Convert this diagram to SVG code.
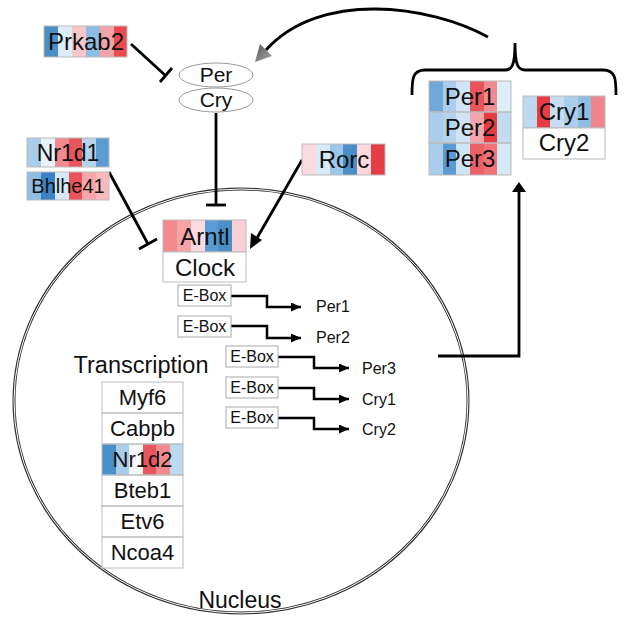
<svg xmlns="http://www.w3.org/2000/svg" width="636" height="635" viewBox="0 0 636 635">
<defs>
<style>
text{font-family:"Liberation Sans",Arial,sans-serif;fill:#111;text-anchor:middle}
.t24{font-size:24px}.t22{font-size:22px}.t20{font-size:20px}.t16{font-size:16px}
.cell{fill:none;stroke:#bbb;stroke-width:1}
.conn{fill:none;stroke:#000;stroke-width:2.8}
.thin{fill:none;stroke:#000;stroke-width:2.5}
.ebox{fill:#fff;stroke:#aaa;stroke-width:1}
.lab{text-anchor:start}
</style>
<marker id="ah" markerUnits="userSpaceOnUse" markerWidth="12" markerHeight="10" refX="10" refY="4.5" orient="auto"><path d="M0,0 L10,4.5 L0,9 z" fill="#000"/></marker>
<linearGradient id="gg" x1="0" y1="0" x2="1" y2="1"><stop offset="0" stop-color="#555"/><stop offset="1" stop-color="#aaa"/></linearGradient>
</defs>

<g id="nucleus">
<ellipse cx="241" cy="401" rx="227" ry="212" fill="none" stroke="#333" stroke-width="3"/>
<ellipse cx="241" cy="401" rx="227" ry="212" fill="none" stroke="#fff" stroke-width="1"/>
<text x="240" y="608" style="font-size:23px">Nucleus</text>
</g>

<g id="connectors">
<path class="conn" d="M131,44 L166,76"/>
<path class="conn" d="M160,82 L172,68"/>
<path class="conn" d="M216,113 V205"/>
<path class="conn" d="M206,205 H226"/>
<path class="conn" d="M109,172 L148,244"/>
<path class="conn" d="M139,249 L157,239"/>
<path class="conn" d="M302,160 L257,238"/>
<polygon points="250,249 251,233 262,240" fill="#000"/>
<path class="conn" d="M488,37 C430,5 320,-10 266,50"/>
<polygon points="255,62 260,44 272,56" fill="url(#gg)"/>
<path class="conn" d="M438,356 H519 V190"/>
<polygon points="519,182 512,192 526,192" fill="#000"/>
<path class="conn" d="M412,95 C412,80 412,70 425,70 H505 C512,70 515,65 515,43 C515,65 518,70 525,70 H603 C616,70 616,80 616,95"/>
<path class="thin" marker-end="url(#ah)" d="M231,296 H267 V307 H301"/>
<path class="thin" marker-end="url(#ah)" d="M231,326 H267 V338 H301"/>
<path class="thin" marker-end="url(#ah)" d="M278,357 H314 V368 H349"/>
<path class="thin" marker-end="url(#ah)" d="M278,388 H314 V399 H349"/>
<path class="thin" marker-end="url(#ah)" d="M278,418 H314 V429 H349"/>
</g>

<g id="Prkab2">
<rect x="44" y="26" width="14" height="31" fill="#4a8fc8"/><rect x="58" y="26" width="14" height="31" fill="#dceefa"/><rect x="72" y="26" width="14" height="31" fill="#f7c6c9"/><rect x="86" y="26" width="14" height="31" fill="#8dbde2"/><rect x="100" y="26" width="14" height="31" fill="#f3a3a8"/><rect x="114" y="26" width="13" height="31" fill="#e94b50"/>
<rect class="cell" x="44" y="26" width="83" height="31"/>
<text class="t24" x="86" y="50">Prkab2</text>
</g>

<g id="PerCry">
<ellipse cx="216" cy="75" rx="37" ry="12" fill="#fff" stroke="#999" stroke-width="1"/>
<text x="216" y="82" style="font-size:21px">Per</text>
<ellipse cx="216" cy="100" rx="37" ry="12" fill="#fff" stroke="#999" stroke-width="1"/>
<text x="216" y="107" style="font-size:21px">Cry</text>
</g>

<g id="Nr1d1">
<rect x="27" y="138" width="14" height="29" fill="#a9cdeb"/><rect x="41" y="138" width="14" height="29" fill="#e8f3fb"/><rect x="55" y="138" width="14" height="29" fill="#f08a8e"/><rect x="69" y="138" width="13" height="29" fill="#e9555a"/><rect x="82" y="138" width="14" height="29" fill="#b4d4ee"/><rect x="96" y="138" width="13" height="29" fill="#5a9bd3"/>
<rect class="cell" x="27" y="138" width="82" height="29"/>
<text x="68" y="161" style="font-size:23px">Nr1d1</text>
</g>

<g id="Bhlhe41">
<rect x="27" y="172" width="14" height="28" fill="#8dbde2"/><rect x="41" y="172" width="14" height="28" fill="#3b82c4"/><rect x="55" y="172" width="14" height="28" fill="#d5e8f6"/><rect x="69" y="172" width="13" height="28" fill="#e9555a"/><rect x="82" y="172" width="14" height="28" fill="#f4a6aa"/><rect x="96" y="172" width="13" height="28" fill="#f7b9bd"/>
<rect class="cell" x="27" y="172" width="82" height="28"/>
<text class="t20" x="68" y="193">Bhlhe41</text>
</g>

<g id="Rorc">
<rect x="302" y="144" width="14" height="31" fill="#fadadd"/><rect x="316" y="144" width="14" height="31" fill="#d8eaf7"/><rect x="330" y="144" width="13" height="31" fill="#9cc7e8"/><rect x="343" y="144" width="14" height="31" fill="#4a8fc8"/><rect x="357" y="144" width="14" height="31" fill="#fbd9dc"/><rect x="371" y="144" width="14" height="31" fill="#e53e44"/>
<rect class="cell" x="302" y="144" width="83" height="31"/>
<text class="t24" x="344" y="168">Rorc</text>
</g>

<g id="ArntlClock">
<rect x="163" y="220" width="14" height="32" fill="#f28b90"/><rect x="177" y="220" width="14" height="32" fill="#f5a3a7"/><rect x="191" y="220" width="14" height="32" fill="#fbd9dc"/><rect x="205" y="220" width="13" height="32" fill="#5a9bd3"/><rect x="218" y="220" width="14" height="32" fill="#4a8fc8"/><rect x="232" y="220" width="14" height="32" fill="#fbd0d4"/>
<rect class="cell" x="163" y="220" width="83" height="32"/>
<text class="t24" x="205" y="245">Arntl</text>
<rect x="163" y="252" width="83" height="30" fill="#fff" stroke="#bbb"/>
<text class="t24" x="205" y="276">Clock</text>
</g>

<g id="EBoxes">
<rect class="ebox" x="178" y="285" width="53" height="21"/><text class="t16" x="204.5" y="301">E-Box</text>
<rect class="ebox" x="178" y="316" width="53" height="21"/><text class="t16" x="204.5" y="332">E-Box</text>
<rect class="ebox" x="226" y="346" width="52" height="21"/><text class="t16" x="252" y="362">E-Box</text>
<rect class="ebox" x="226" y="377" width="52" height="21"/><text class="t16" x="252" y="393">E-Box</text>
<rect class="ebox" x="226" y="407" width="52" height="21"/><text class="t16" x="252" y="423">E-Box</text>
<text class="t16 lab" x="316" y="312">Per1</text>
<text class="t16 lab" x="316" y="343">Per2</text>
<text class="t16 lab" x="362" y="374">Per3</text>
<text class="t16 lab" x="362" y="405">Cry1</text>
<text class="t16 lab" x="362" y="435">Cry2</text>
</g>

<g id="Transcription">
<text x="141" y="373" style="font-size:23.5px">Transcription</text>
<rect x="102" y="382" width="81" height="186" fill="#fff"/>
<rect x="102" y="444" width="14" height="31" fill="#4a8fc8"/><rect x="116" y="444" width="13" height="31" fill="#a9cdeb"/><rect x="129" y="444" width="14" height="31" fill="#f4f8fb"/><rect x="143" y="444" width="13" height="31" fill="#e9555a"/><rect x="156" y="444" width="14" height="31" fill="#f28b90"/><rect x="170" y="444" width="13" height="31" fill="#bcd9ef"/>
<rect class="cell" x="102" y="382" width="81" height="31"/>
<rect class="cell" x="102" y="413" width="81" height="31"/>
<rect class="cell" x="102" y="444" width="81" height="31"/>
<rect class="cell" x="102" y="475" width="81" height="31"/>
<rect class="cell" x="102" y="506" width="81" height="31"/>
<rect class="cell" x="102" y="537" width="81" height="31"/>
<text class="t22" x="142.5" y="405">Myf6</text>
<text class="t22" x="142.5" y="436">Cabpb</text>
<text class="t22" x="142.5" y="467">Nr1d2</text>
<text class="t22" x="142.5" y="498">Bteb1</text>
<text class="t22" x="142.5" y="529">Etv6</text>
<text class="t22" x="142.5" y="560">Ncoa4</text>
</g>

<g id="PerGenes">
<rect x="429" y="81" width="14" height="31" fill="#6fa8d9"/><rect x="443" y="81" width="13" height="31" fill="#a9cdeb"/><rect x="456" y="81" width="14" height="31" fill="#cfe4f5"/><rect x="470" y="81" width="14" height="31" fill="#e9555a"/><rect x="484" y="81" width="13" height="31" fill="#f28b90"/><rect x="497" y="81" width="14" height="31" fill="#dceefa"/>
<rect x="429" y="112" width="14" height="31" fill="#a9cdeb"/><rect x="443" y="112" width="13" height="31" fill="#b4d4ee"/><rect x="456" y="112" width="14" height="31" fill="#cfe4f5"/><rect x="470" y="112" width="14" height="31" fill="#f4a6aa"/><rect x="484" y="112" width="13" height="31" fill="#e63c42"/><rect x="497" y="112" width="14" height="31" fill="#c1dcf1"/>
<rect x="429" y="143" width="14" height="32" fill="#a9cdeb"/><rect x="443" y="143" width="13" height="32" fill="#5a9bd3"/><rect x="456" y="143" width="14" height="32" fill="#cfe4f5"/><rect x="470" y="143" width="14" height="32" fill="#ec6166"/><rect x="484" y="143" width="13" height="32" fill="#f07378"/><rect x="497" y="143" width="14" height="32" fill="#d5e8f6"/>
<rect class="cell" x="429" y="81" width="82" height="31"/>
<rect class="cell" x="429" y="112" width="82" height="31"/>
<rect class="cell" x="429" y="143" width="82" height="32"/>
<text class="t24" x="470" y="105">Per1</text>
<text class="t24" x="470" y="136">Per2</text>
<text class="t24" x="470" y="167">Per3</text>
</g>

<g id="CryGenes">
<rect x="523" y="96" width="14" height="32" fill="#bcd9ef"/><rect x="537" y="96" width="13" height="32" fill="#e63c42"/><rect x="550" y="96" width="14" height="32" fill="#c5def2"/><rect x="564" y="96" width="14" height="32" fill="#a9cdeb"/><rect x="578" y="96" width="13" height="32" fill="#8dbde2"/><rect x="591" y="96" width="14" height="32" fill="#f0868b"/>
<rect class="cell" x="523" y="96" width="82" height="32"/>
<rect x="523" y="128" width="82" height="31" fill="#fff" stroke="#bbb"/>
<text class="t24" x="564" y="120">Cry1</text>
<text class="t24" x="564" y="151">Cry2</text>
</g>
</svg>
